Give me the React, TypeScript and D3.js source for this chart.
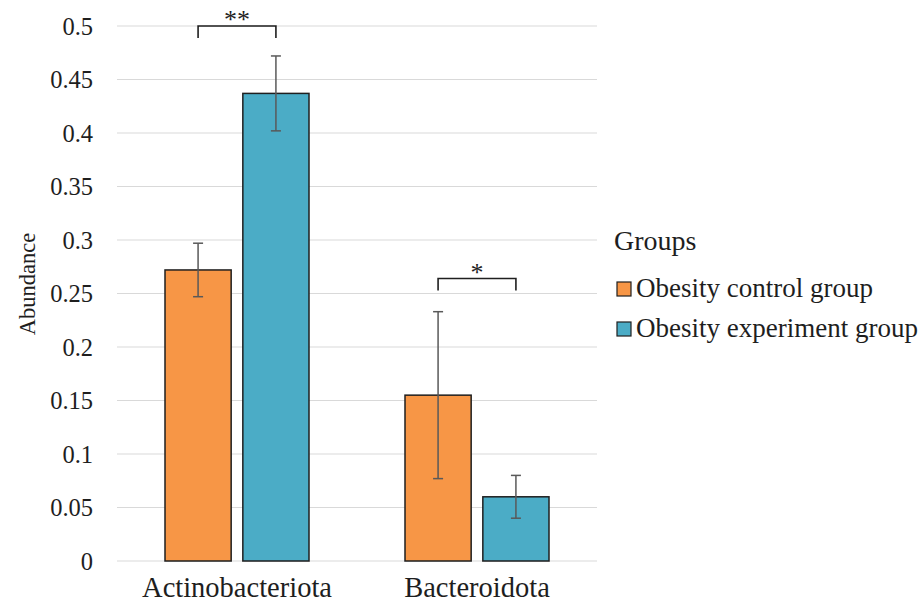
import React from "react";
import * as d3 from "d3";

const categories = ["Actinobacteriota", "Bacteroidota"];
const seriesNames = ["Obesity control group", "Obesity experiment group"];
const controlValues = [0.272, 0.155];
const experimentValues = [0.437, 0.06];
const controlErrors = [0.025, 0.078];
const experimentErrors = [0.035, 0.02];
const sigLabels = ["**", "*"];
const sigLevels = [0.5, 0.264];
const yTicks = [0, 0.05, 0.1, 0.15, 0.2, 0.25, 0.3, 0.35, 0.4, 0.45, 0.5];
const yTickLabels = ["0", "0.05", "0.1", "0.15", "0.2", "0.25", "0.3", "0.35", "0.4", "0.45", "0.5"];
const colors = ["#F79646", "#4BACC6"];

const W = 921;
const H = 605;
const FONT = '"Liberation Serif", "Times New Roman", Tinos, "DejaVu Serif", serif';
const TEXT = "#1e1e1e";
const ts = { fontFamily: FONT };

export default function App() {
  const x0 = d3.scaleBand<string>().domain(categories).range([117, 597]).paddingInner(0.4).paddingOuter(0.2);
  const x1 = d3.scaleBand<string>().domain(seriesNames).range([0, x0.bandwidth()]).paddingInner(0.15);
  const y = d3.scaleLinear().domain([0, 0.5]).range([561, 26]);
  const seriesValues = [controlValues, experimentValues];
  const seriesErrors = [controlErrors, experimentErrors];
  const cap = 5;

  return (
    <svg width={W} height={H} style={{ position: "absolute", left: 0, top: 0, background: "#fff" }}>
      {yTicks.map((t, i) => (
        <g key={"t" + i}>
          <line x1={117} x2={597} y1={y(t)} y2={y(t)} stroke="#d9d9d9" strokeWidth={1.2} />
          <text x={93} y={y(t)} dy="0.35em" textAnchor="end" fontSize={24.5} fill={TEXT} style={ts}>
            {yTickLabels[i]}
          </text>
        </g>
      ))}
      {categories.map((c, ci) => (
        <g key={c} transform={`translate(${x0(c)},0)`}>
          {seriesNames.map((s, si) => {
            const v = seriesValues[si][ci];
            const e = seriesErrors[si][ci];
            const bx = x1(s)!;
            const cx = bx + x1.bandwidth() / 2;
            return (
              <g key={s}>
                <rect x={bx} y={y(v)} width={x1.bandwidth()} height={y(0) - y(v)} fill={colors[si]} stroke="#1f1f1f" strokeWidth={1.5} />
                <line x1={cx} x2={cx} y1={y(v + e)} y2={y(v - e)} stroke="#595959" strokeWidth={1.5} />
                <line x1={cx - cap} x2={cx + cap} y1={y(v + e)} y2={y(v + e)} stroke="#595959" strokeWidth={1.5} />
                <line x1={cx - cap} x2={cx + cap} y1={y(v - e)} y2={y(v - e)} stroke="#595959" strokeWidth={1.5} />
              </g>
            );
          })}
          {(() => {
            const a = x1(seriesNames[0])! + x1.bandwidth() / 2;
            const b = x1(seriesNames[1])! + x1.bandwidth() / 2;
            const ly = y(sigLevels[ci]);
            return (
              <g>
                <path d={`M${a},${ly + 12}V${ly}H${b}V${ly + 12}`} fill="none" stroke="#1f1f1f" strokeWidth={1.6} />
                <text x={(a + b) / 2} y={ly + 2} textAnchor="middle" fontSize={26} fill={TEXT} style={ts}>
                  {sigLabels[ci]}
                </text>
              </g>
            );
          })()}
          <text x={x0.bandwidth() / 2} y={597} textAnchor="middle" fontSize={28.5} fill={TEXT} style={ts}>
            {c}
          </text>
        </g>
      ))}
      <text transform={`translate(35,284) rotate(-90)`} textAnchor="middle" fontSize={22.5} fill={TEXT} style={ts}>
        Abundance
      </text>
      <text x={614} y={250} fontSize={28} fill={TEXT} style={ts}>
        Groups
      </text>
      {seriesNames.map((s, si) => (
        <g key={"l" + s} transform={`translate(617,${282 + si * 40})`}>
          <rect x={0} y={0} width={14} height={14} fill={colors[si]} stroke="#1f1f1f" strokeWidth={1.2} />
          <text x={19} y={15} fontSize={27} fill={TEXT} style={ts}>
            {s}
          </text>
        </g>
      ))}
    </svg>
  );
}
